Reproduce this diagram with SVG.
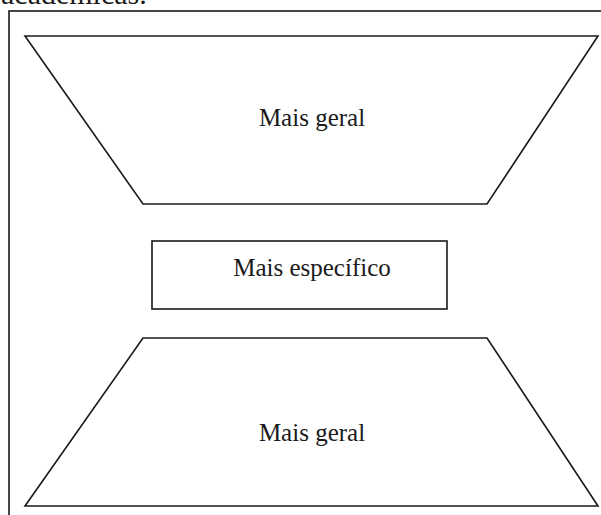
<svg xmlns="http://www.w3.org/2000/svg" width="601" height="515" viewBox="0 0 601 515">
<style>
.shape{fill:#fff;stroke:#1a1a1a;stroke-width:1.6}
.lbl{font-family:"Liberation Serif","Times New Roman",serif;font-size:25px;fill:#1a1a1a;text-anchor:middle}
.hdr{font-family:"Liberation Serif","Times New Roman",serif;font-size:30px;fill:#1a1a1a}
</style>
<rect width="601" height="515" fill="#fff"/>
<text class="hdr" x="1" y="4">acadêmicas.</text>
<rect class="shape" x="9" y="11" width="610" height="520" fill="none"/>
<g id="node-top">
<polygon class="shape" points="25,36 598,36 487,204 143,204"/>
<text class="lbl" x="312" y="126">Mais geral</text>
</g>
<g id="node-middle">
<rect class="shape" x="152" y="241" width="295" height="68"/>
<text class="lbl" x="312" y="276">Mais específico</text>
</g>
<g id="node-bottom">
<polygon class="shape" points="143,338 487,338 598,506 25,506"/>
<text class="lbl" x="312" y="441">Mais geral</text>
</g>
<g id="connectors"></g>
</svg>
